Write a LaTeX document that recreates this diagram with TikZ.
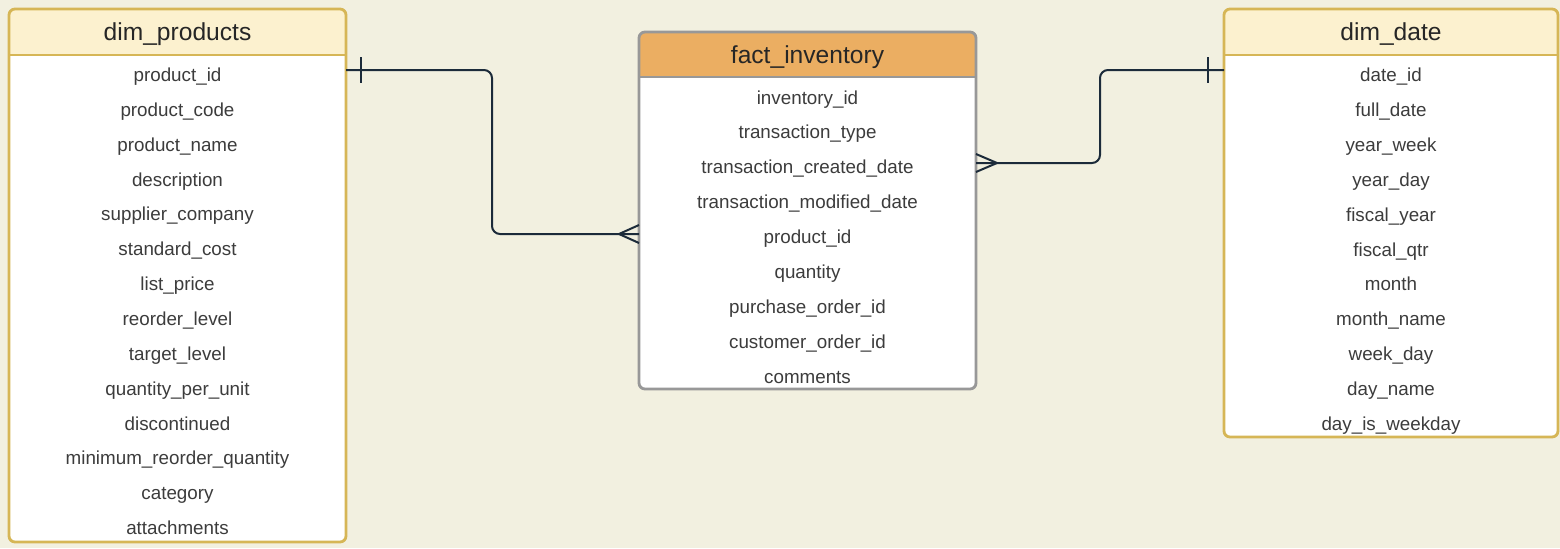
\documentclass[tikz,border=0pt]{standalone}
\usepackage{fontspec}
\setmainfont{Liberation Sans}
\usetikzlibrary{calc}
\definecolor{canvas}{HTML}{F2F0E0}
\definecolor{dimline}{HTML}{D6B656}
\definecolor{dimhead}{HTML}{FCF1CF}
\definecolor{facthead}{HTML}{EBAE62}
\definecolor{factline}{HTML}{989898}
\definecolor{link}{HTML}{1C2B3A}
\definecolor{fieldtxt}{HTML}{3C3C3C}
\tikzset{
  title/.style={font=\fontsize{12.3}{14}\selectfont,text=black!85,anchor=base},
  field/.style={font=\fontsize{9.4}{11}\selectfont,text=fieldtxt,anchor=base},
  frame/.style={line width=1.4pt,rounded corners=3pt},
  rel/.style={draw=link,line width=1pt,rounded corners=4pt},
  foot/.style={draw=link,line width=1pt}}

\begin{document}
\begin{tikzpicture}[x=.5pt,y=-.5pt]
\fill[canvas](0,0)rectangle(1560,548);
\useasboundingbox(0,0)rectangle(1560,548);
% dim_products
\begin{scope}
\clip[rounded corners=3pt](9,9)rectangle(346,542);
\fill[white](9,9)rectangle(346,542);\fill[dimhead](9,9)rectangle(346,55);
\end{scope}
\draw[dimline,line width=1.4pt](9,55)--(346,55);
\draw[frame,dimline](9,9)rectangle(346,542);
\node[title](prod)at(177.5,40){dim\_products};
\foreach \f[count=\i] in {product\_id,product\_code,product\_name,description,supplier\_company,standard\_cost,list\_price,reorder\_level,target\_level,quantity\_per\_unit,discontinued,minimum\_reorder\_quantity,category,attachments}
  {\node[field](prod-\i)at(177.5,{81.5+(\i-1)*34.85}){\f};}
% fact_inventory
\begin{scope}
\clip[rounded corners=3pt](639,32)rectangle(976,389);
\fill[white](639,32)rectangle(976,389);\fill[facthead](639,32)rectangle(976,77);
\end{scope}
\draw[factline,line width=1.4pt](639,77)--(976,77);
\draw[frame,factline](639,32)rectangle(976,389);
\node[title](fact)at(807.5,63){fact\_inventory};
\foreach \f[count=\i] in {inventory\_id,transaction\_type,transaction\_created\_date,transaction\_modified\_date,product\_id,quantity,purchase\_order\_id,customer\_order\_id,comments}
  {\node[field](fact-\i)at(807.5,{104+(\i-1)*34.9}){\f};}
% dim_date
\begin{scope}
\clip[rounded corners=3pt](1224,9)rectangle(1558,437);
\fill[white](1224,9)rectangle(1558,437);\fill[dimhead](1224,9)rectangle(1558,55);
\end{scope}
\draw[dimline,line width=1.4pt](1224,55)--(1558,55);
\draw[frame,dimline](1224,9)rectangle(1558,437);
\node[title](date)at(1391,40){dim\_date};
\foreach \f[count=\i] in {date\_id,full\_date,year\_week,year\_day,fiscal\_year,fiscal\_qtr,month,month\_name,week\_day,day\_name,day\_is\_weekday}
  {\node[field](date-\i)at(1391,{81.5+(\i-1)*34.9}){\f};}
% relationships
\coordinate(prodPort)at(346,70);\coordinate(factIn)at(639,234);
\coordinate(factOut)at(976,163);\coordinate(dateIn)at(1224,70);
\draw[rel](prodPort)-|(492,234)--(factIn);
\draw[foot]($(prodPort)+(15,-13)$)--++(0,26);
\draw[foot]($(factIn)+(0,-9)$)--++(-20,9)--++(20,9);
\draw[rel](factOut)-|(1100,70)--(dateIn);
\draw[foot]($(dateIn)+(-16,-13)$)--++(0,26);
\draw[foot]($(factOut)+(0,-9)$)--++(21,9)--++(-21,9);
\end{tikzpicture}
\end{document}
